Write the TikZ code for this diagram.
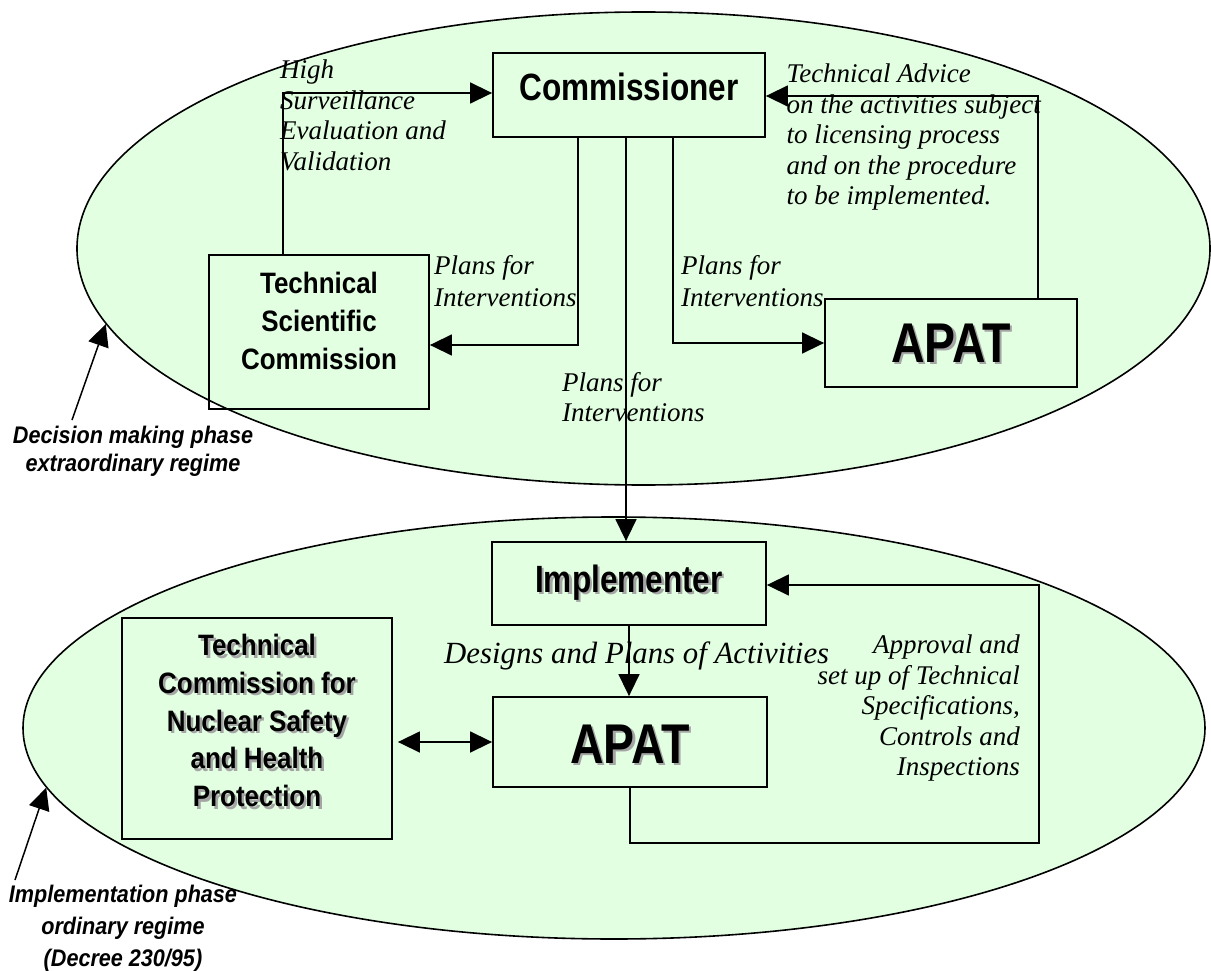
\documentclass[tikz,border=0pt]{standalone}
\usepackage{fontspec}
\setmainfont{Liberation Serif}
\newfontfamily\nsans{Liberation Sans}[FakeStretch=0.83]
\newfontfamily\tsans{Liberation Sans}[FakeStretch=0.88]
\newfontfamily\lsans{Liberation Sans}[FakeStretch=0.9]
\usetikzlibrary{shapes.geometric,arrows.meta,calc}
\definecolor{ellfill}{RGB}{226,255,226}
\definecolor{shadowgray}{RGB}{165,165,165}
\tikzset{
  ell/.style={ellipse, draw, line width=1.6pt, fill=ellfill, inner sep=0pt},
  box/.style={rectangle, draw, line width=1.8pt, inner sep=0pt},
  lab/.style={font=\fontsize{27}{30.5}\selectfont\itshape, inner sep=0pt, align=left, anchor=north west},
  labp/.style={lab, font=\fontsize{27}{32}\selectfont\itshape},
  bigname/.style={font=\fontsize{38}{40}\selectfont\nsans\bfseries, inner sep=0pt},
  apatname/.style={font=\fontsize{56}{60}\selectfont\nsans\bfseries, inner sep=0pt},
  boxtext/.style={font=\fontsize{29.5}{37.8}\selectfont\tsans\bfseries, inner sep=0pt, align=center, anchor=north},
  phase/.style={font=\fontsize{24}{28}\selectfont\lsans\bfseries\itshape, inner sep=0pt, align=center, anchor=north},
  shadowtext/.style={text=shadowgray},
  arr/.style={line width=1.5pt, -{Triangle[length=22pt,width=21pt]}},
  arrtwo/.style={line width=1.5pt, {Triangle[length=22pt,width=21pt]}-{Triangle[length=22pt,width=21pt]}}
}
\begin{document}
\begin{tikzpicture}[x=1pt,y=-1pt]
\useasboundingbox (0,0) rectangle (1211,971);

% regimes
\node[ell, minimum width=1133pt, minimum height=473pt] (top) at (643.5,248.5) {};
\node[ell, minimum width=1182pt, minimum height=422pt] (bot) at (614,728) {};

% boxes
\node[box, minimum width=272pt, minimum height=84pt] (comm) at (629,95) {};
\node[bigname, anchor=base] (commt) at (629,101) {Commissioner};
\node[box, minimum width=220pt, minimum height=154pt] (tsc) at (319,332) {};
\node[boxtext] (tsct) at (319,272) {Technical\\Scientific\\Commission};
\node[box, minimum width=252pt, minimum height=88pt] (apat1) at (951,343) {};
\node[apatname, shadowtext, anchor=base] (apat1s) at (953.5,364.5) {APAT};
\node[apatname, anchor=base] (apat1t) at (951,362) {APAT};

\node[box, minimum width=274pt, minimum height=83pt] (impl) at (629,583.5) {};
\node[bigname, shadowtext, anchor=base] (impls) at (631.5,594.5) {Implementer};
\node[bigname, anchor=base] (implt) at (629,592) {Implementer};
\node[box, minimum width=274pt, minimum height=90pt] (apat2) at (630,742) {};
\node[apatname, shadowtext, anchor=base] (apat2s) at (632.5,765.5) {APAT};
\node[apatname, anchor=base] (apat2t) at (630,763) {APAT};
\node[box, minimum width=270pt, minimum height=221pt] (tcn) at (257,728.5) {};
\node[boxtext, shadowtext] (tcns) at (259.5,636.5) {Technical\\Commission for\\Nuclear Safety\\and Health\\Protection};
\node[boxtext] (tcnt) at (257,634) {Technical\\Commission for\\Nuclear Safety\\and Health\\Protection};

% connectors, decision phase
\draw[arr] ([xshift=-36pt]tsc.north) |- ([yshift=2pt]comm.west);
\draw[arr] ([xshift=-51pt]comm.south) |- ([yshift=-13pt]tsc.east);
\draw[arr] ([xshift=-3pt]comm.south) -- ([xshift=-3pt]impl.north);
\draw[arr] ([xshift=44pt]comm.south) |- (apat1.west);
\draw[arr] ([xshift=87pt]apat1.north) |- ([yshift=-1pt]comm.east);

% connectors, implementation phase
\draw[arr] (impl.south) -- (impl.south |- apat2.north);
\coordinate (fbc) at (1039,843);
\draw[arr] (apat2.south) |- (fbc) |- ([yshift=-1.5pt]impl.east);
\coordinate (tcnE) at ([xshift=5pt]tcn.east);
\draw[arrtwo] (tcnE |- apat2.west) -- (apat2.west);

% labels
\node[lab] (hs) at (280,60) {High\\Surveillance\\Evaluation and\\Validation};
\node[lab] (ta) at (786.5,64) {Technical Advice\\on the activities subject\\to licensing process\\and on the procedure\\to be implemented.};
\node[labp] (p1) at (434,255) {Plans for\\Interventions};
\node[labp] (p2) at (681,255) {Plans for\\Interventions};
\node[lab] (p3) at (562,372) {Plans for\\Interventions};
\node[font=\fontsize{30.8}{34}\selectfont\itshape, inner sep=0pt, anchor=base west] (ds) at (444,663) {Designs and Plans of Activities};
\node[lab, align=right, anchor=north east] (ap) at (1020,635) {Approval and\\set up of Technical\\Specifications,\\Controls and\\Inspections};

% phase labels
\node[phase] (dec) at (133,425.5) {Decision making phase\\extraordinary regime};
\coordinate (dtail) at (72,420);
\draw[arr] (dtail) -- (top.188);
\node[phase, font=\fontsize{24}{32}\selectfont\lsans\bfseries\itshape] (imp) at (123,885) {Implementation phase\\ordinary regime\\(Decree 230/95)};
\coordinate (itail) at (15,880);
\draw[arr] (itail) -- (bot.186);
\end{tikzpicture}
\end{document}
